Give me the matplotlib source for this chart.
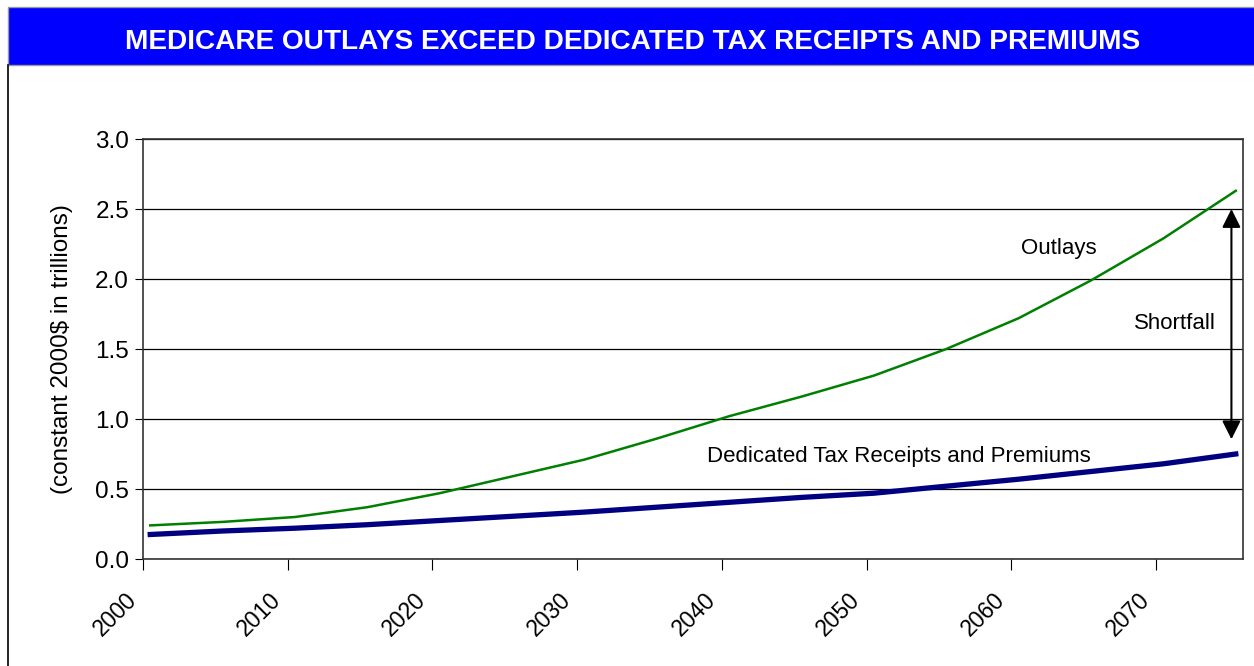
import numpy as np
import matplotlib
matplotlib.use('Agg')
import matplotlib.pyplot as plt
from matplotlib.patches import Rectangle
from matplotlib.lines import Line2D
from matplotlib.transforms import ScaledTranslation

plt.rcParams['font.family'] = ['Liberation Sans', 'DejaVu Sans']

# data (trillions of constant 2000 dollars)
years = [2000, 2005, 2010, 2015, 2020, 2025, 2030, 2035, 2040, 2045, 2050, 2055, 2060, 2065, 2070, 2075]
outlays = [0.24, 0.265, 0.30, 0.37, 0.47, 0.59, 0.71, 0.86, 1.02, 1.16, 1.31, 1.50, 1.72, 1.99, 2.29, 2.63]
receipts = [0.175, 0.20, 0.22, 0.245, 0.275, 0.305, 0.335, 0.37, 0.405, 0.44, 0.47, 0.52, 0.57, 0.625, 0.68, 0.75]
tick_years = [2000, 2010, 2020, 2030, 2040, 2050, 2060, 2070]
y_ticks = [0.0, 0.5, 1.0, 1.5, 2.0, 2.5, 3.0]

title = "MEDICARE OUTLAYS EXCEED DEDICATED TAX RECEIPTS AND PREMIUMS"

fig = plt.figure(figsize=(12.54, 6.66), dpi=100)

# title banner and outer frame
fig.patches.append(Rectangle((8/1254, 601/666), 1.0, 58/666, transform=fig.transFigure,
                             facecolor='#0000ff', edgecolor='#999999', lw=1, zorder=0))
fig.lines.append(Line2D([8/1254, 8/1254], [0, 601/666], transform=fig.transFigure, color='black', lw=1.2))
fig.text(633/1254, 1 - 42/666, title, color='white', fontsize=20.2, fontweight='bold',
         ha='center', va='center')

ax = fig.add_axes([143/1254, 107/666, 1100/1254, 420/666])

# categories centred between year boundaries
x = np.array(years) + 0.5
ax.plot(x, outlays, color='#008000', lw=1.8, zorder=3)
ax.plot(x, receipts, color='#000080', lw=3.8, zorder=3)

ax.set_xlim(2000, 2076)
ax.set_ylim(0, 3.0)
ax.set_yticks(y_ticks)
ax.set_yticklabels(['%.1f' % v for v in y_ticks])
ax.set_xticks(tick_years)
ax.set_xticklabels([str(t) for t in tick_years], rotation=45, ha='right', va='center',
                   rotation_mode='anchor')
ax.tick_params(axis='y', direction='out', length=6, labelsize=17.5, pad=4)
ax.tick_params(axis='x', direction='out', length=8, labelsize=16.5, pad=19)
for lab in ax.get_xticklabels():
    lab.set_transform(lab.get_transform() + ScaledTranslation(-0.10, 0, fig.dpi_scale_trans))
ax.yaxis.grid(True, color='black', lw=0.9)
ax.set_axisbelow(True)
for s in ax.spines.values():
    s.set_color('#333333')
    s.set_linewidth(1.2)

ax.set_ylabel('(constant 2000$ in trillions)', fontsize=17.5, labelpad=16)

# shortfall arrow and labels
ax.annotate('', xy=(2075.2, 0.855), xytext=(2075.2, 2.5),
            arrowprops=dict(arrowstyle='<|-|>', color='black', lw=1.5, mutation_scale=28,
                            shrinkA=0, shrinkB=0))
ax.text(2063.3, 2.22, 'Outlays', fontsize=16, ha='center', va='center')
ax.text(2071.3, 1.68, 'Shortfall', fontsize=16, ha='center', va='center')
ax.text(2052.2, 0.73, 'Dedicated Tax Receipts and Premiums', fontsize=16, ha='center', va='center')

plt.savefig('out.png', dpi=100)
